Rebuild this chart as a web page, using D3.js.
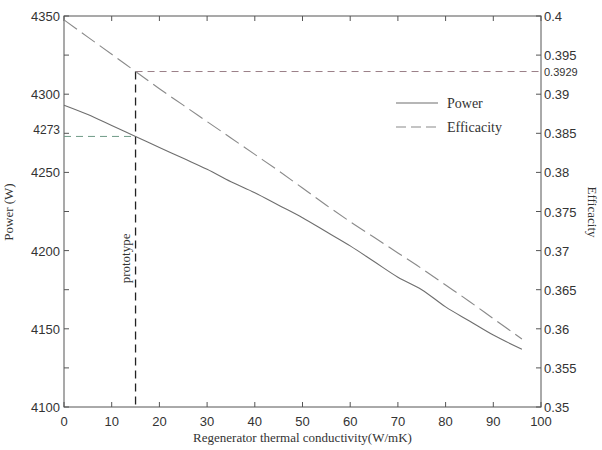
<!DOCTYPE html>
<html>
<head>
<meta charset="utf-8">
<script src="https://cdn.jsdelivr.net/npm/d3@7"></script>
<style>
body { margin: 0; background: #fff; }
svg text { fill: #333; }
.tick-lab { font-family: "Liberation Sans", Arial, sans-serif; font-size: 13px; }
.serif { font-family: "Liberation Serif", "Times New Roman", serif; }
</style>
</head>
<body>
<div id="wrapper"></div>
<script>
// regenerator thermal conductivity (W/mK)
const conductivity = [0, 5, 10, 15, 20, 25, 30, 35, 40, 45, 50, 55, 60, 65, 70, 75, 80, 85, 90, 96];
const power = [4293, 4287, 4280, 4273, 4266, 4259, 4252, 4244, 4237, 4229, 4221, 4212, 4203, 4193, 4183, 4175, 4164, 4155, 4146, 4137];
const efficacity = [0.3995, 0.3973, 0.3951, 0.3929, 0.3907, 0.3886, 0.3865, 0.3844, 0.3823, 0.3802, 0.3780, 0.3758, 0.3737, 0.3717, 0.3697, 0.3677, 0.3656, 0.3635, 0.3613, 0.3587];
const xTicks = [0, 10, 20, 30, 40, 50, 60, 70, 80, 90, 100];
const powerTicks = [4100, 4150, 4200, 4250, 4300, 4350];
const effTicks = [0.35, 0.355, 0.36, 0.365, 0.37, 0.375, 0.38, 0.385, 0.39, 0.395, 0.4];
const prototypeK = 15, prototypePower = 4273, prototypeEff = 0.3929;

var dimension = {
    width: 602,
    height: 450,
    margin: { top: 16, right: 61, bottom: 43, left: 64 }
};
dimension.boundedWidth = dimension.width - dimension.margin.left - dimension.margin.right;
dimension.boundedHeight = dimension.height - dimension.margin.top - dimension.margin.bottom;

const svg = d3.select("#wrapper").append("svg")
    .attr("width", dimension.width)
    .attr("height", dimension.height);

const bounds = svg.append("g")
    .attr("transform", `translate(${dimension.margin.left},${dimension.margin.top})`);

const x = d3.scaleLinear().domain([0, 100]).range([0, dimension.boundedWidth]);
const yP = d3.scaleLinear().domain([4100, 4350]).range([dimension.boundedHeight, 0]);
const yE = d3.scaleLinear().domain([0.35, 0.4]).range([dimension.boundedHeight, 0]);

// frame
bounds.append("rect")
    .attr("width", dimension.boundedWidth)
    .attr("height", dimension.boundedHeight)
    .attr("fill", "none")
    .attr("stroke", "#555")
    .attr("stroke-width", 1);

// ticks, all pointing inward
const tickLen = 5;
const tg = bounds.append("g").attr("stroke", "#555").attr("stroke-width", 1);
xTicks.forEach(t => {
    tg.append("line").attr("x1", x(t)).attr("x2", x(t)).attr("y1", dimension.boundedHeight).attr("y2", dimension.boundedHeight - tickLen);
    tg.append("line").attr("x1", x(t)).attr("x2", x(t)).attr("y1", 0).attr("y2", tickLen);
});
d3.range(4100, 4351, 25).forEach(t => {
    tg.append("line").attr("x1", 0).attr("x2", tickLen).attr("y1", yP(t)).attr("y2", yP(t));
});
effTicks.forEach(t => {
    tg.append("line").attr("x1", dimension.boundedWidth).attr("x2", dimension.boundedWidth - tickLen).attr("y1", yE(t)).attr("y2", yE(t));
});

// tick labels
bounds.append("g").selectAll("text").data(xTicks).enter().append("text")
    .attr("class", "tick-lab")
    .attr("x", d => x(d))
    .attr("y", dimension.boundedHeight + 19)
    .attr("text-anchor", "middle")
    .text(d => d);

bounds.append("g").selectAll("text").data(powerTicks).enter().append("text")
    .attr("class", "tick-lab")
    .attr("x", -4)
    .attr("y", d => yP(d) + 5)
    .attr("text-anchor", "end")
    .text(d => d);

bounds.append("text")
    .attr("class", "tick-lab")
    .attr("x", -4)
    .attr("y", yP(prototypePower) - 2)
    .attr("text-anchor", "end")
    .style("font-size", "12px")
    .text(prototypePower);

bounds.append("g").selectAll("text").data(effTicks).enter().append("text")
    .attr("class", "tick-lab")
    .attr("x", dimension.boundedWidth + 3)
    .attr("y", d => yE(d) + 5)
    .text(d => d);

bounds.append("text")
    .attr("class", "tick-lab")
    .attr("x", dimension.boundedWidth + 3)
    .attr("y", yE(prototypeEff) + 4)
    .style("font-size", "11px")
    .text(prototypeEff);

// prototype guide lines
bounds.append("line")
    .attr("x1", x(prototypeK)).attr("x2", x(prototypeK))
    .attr("y1", yE(prototypeEff)).attr("y2", dimension.boundedHeight)
    .attr("stroke", "#222").attr("stroke-width", 1.3)
    .attr("stroke-dasharray", "8,5");
bounds.append("line")
    .attr("x1", x(prototypeK)).attr("x2", dimension.boundedWidth)
    .attr("y1", yE(prototypeEff)).attr("y2", yE(prototypeEff))
    .attr("stroke", "#9a7f88").attr("stroke-width", 1)
    .attr("stroke-dasharray", "7,5");
bounds.append("line")
    .attr("x1", 0).attr("x2", x(prototypeK))
    .attr("y1", yP(prototypePower)).attr("y2", yP(prototypePower))
    .attr("stroke", "#6f9a86").attr("stroke-width", 1)
    .attr("stroke-dasharray", "7,5");

bounds.append("text")
    .attr("class", "serif")
    .attr("transform", `translate(${x(prototypeK) - 6},${yP(4195)}) rotate(-90)`)
    .attr("text-anchor", "middle")
    .style("font-size", "13px")
    .text("prototype");

// curves
const powerLine = d3.line().x((d, i) => x(conductivity[i])).y(d => yP(d)).curve(d3.curveMonotoneX);
const effLine = d3.line().x((d, i) => x(conductivity[i])).y(d => yE(d)).curve(d3.curveMonotoneX);

bounds.append("path")
    .datum(power)
    .attr("d", powerLine)
    .attr("fill", "none")
    .attr("stroke", "#6e6e6e")
    .attr("stroke-width", 1.1);

bounds.append("path")
    .datum(efficacity)
    .attr("d", effLine)
    .attr("fill", "none")
    .attr("stroke", "#8a8a8a")
    .attr("stroke-width", 1.1)
    .attr("stroke-dasharray", "16,6");

// legend
const legend = bounds.append("g").attr("transform", "translate(332,87)");
legend.append("line").attr("x1", 0).attr("x2", 42).attr("y1", 0).attr("y2", 0)
    .attr("stroke", "#6e6e6e").attr("stroke-width", 1.1);
legend.append("text").attr("class", "serif").attr("x", 51).attr("y", 5)
    .style("font-size", "14px").text("Power");
legend.append("line").attr("x1", 0).attr("x2", 42).attr("y1", 24).attr("y2", 24)
    .attr("stroke", "#8a8a8a").attr("stroke-width", 1.1)
    .attr("stroke-dasharray", "10,5");
legend.append("text").attr("class", "serif").attr("x", 51).attr("y", 29)
    .style("font-size", "14px").text("Efficacity");

// axis titles
svg.append("text")
    .attr("class", "serif")
    .attr("x", dimension.margin.left + dimension.boundedWidth / 2)
    .attr("y", 442)
    .attr("text-anchor", "middle")
    .style("font-size", "13px")
    .text("Regenerator thermal conductivity(W/mK)");

svg.append("text")
    .attr("class", "serif")
    .attr("transform", "translate(13,212) rotate(-90)")
    .attr("text-anchor", "middle")
    .style("font-size", "13px")
    .text("Power (W)");

svg.append("text")
    .attr("class", "serif")
    .attr("transform", "translate(588,212) rotate(90)")
    .attr("text-anchor", "middle")
    .style("font-size", "13px")
    .text("Efficacity");
</script>
</body>
</html>
